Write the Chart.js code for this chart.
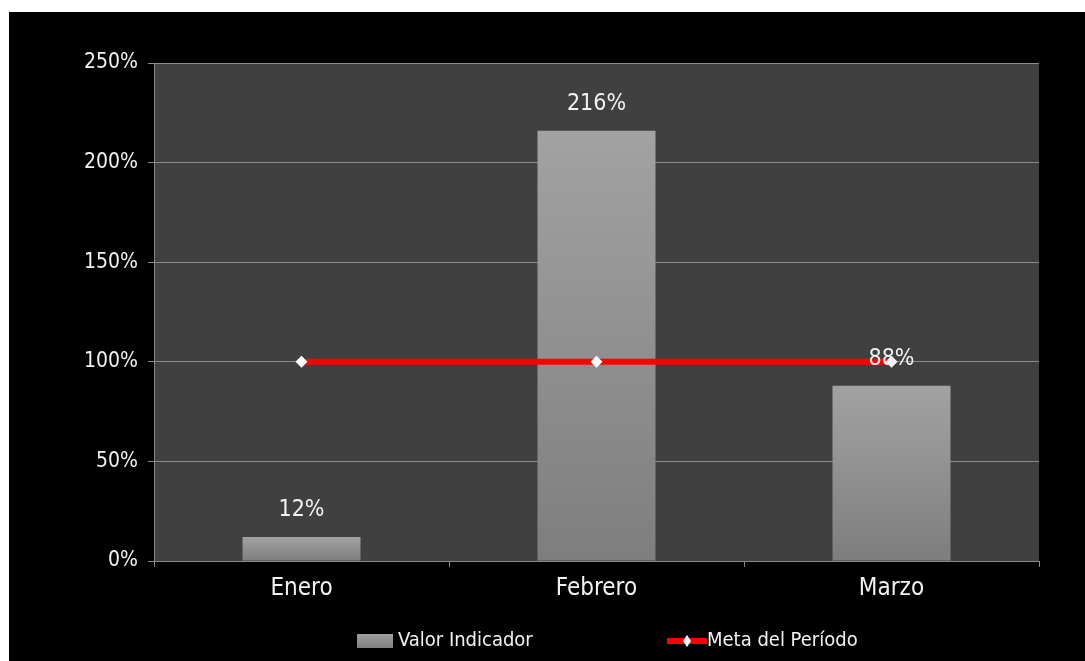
<!DOCTYPE html>
<html>
<head>
<meta charset="utf-8">
<script src="https://cdn.jsdelivr.net/npm/chart.js@4.4.1/dist/chart.umd.min.js"></script>
<style>
  html, body { margin: 0; padding: 0; background: #fff; }
  #wrap { position: absolute; left: 9px; top: 12px; width: 1076px; height: 649px; background: #000; }
</style>
</head>
<body>
<div id="wrap"><canvas id="chart"></canvas></div>
<script>
const MONTHS = ['Enero', 'Febrero', 'Marzo'];
const VALOR = [12, 216, 88];
const META = [100, 100, 100];
const Y_MAX = 250;
const Y_STEP = 50;

const FONT = "'Liberation Sans Narrow', 'DejaVu Sans Condensed', 'Liberation Sans', sans-serif";

// ─── plot background ───────────────────────────
const plotBg = {
  id: 'plotBg',
  beforeDraw(chart) {
    const { ctx, chartArea: a } = chart;
    ctx.save();
    ctx.fillStyle = '#404040';
    ctx.fillRect(a.left, a.top, a.right - a.left, a.bottom - a.top);
    ctx.restore();
  }
};

// ─── value labels above the bars ───────────────
const barLabels = {
  id: 'barLabels',
  afterDatasetsDraw(chart) {
    const { ctx } = chart;
    const meta = chart.getDatasetMeta(0);
    ctx.save();
    ctx.font = '23px ' + FONT;
    ctx.fillStyle = '#f2f2f2';
    ctx.textAlign = 'center';
    ctx.textBaseline = 'middle';
    meta.data.forEach((bar, i) => {
      ctx.fillText(VALOR[i] + '%', bar.x, bar.y - 27);
    });
    ctx.restore();
  }
};

// ─── legend at the bottom ───────────────
const bottomLegend = {
  id: 'bottomLegend',
  afterDraw(chart) {
    const { ctx } = chart;
    const y = 629;
    ctx.save();
    ctx.font = '20px ' + FONT;
    ctx.textBaseline = 'middle';
    ctx.textAlign = 'left';

    const g = ctx.createLinearGradient(0, y - 7, 0, y + 7);
    g.addColorStop(0, '#a0a0a0');
    g.addColorStop(1, '#808080');
    ctx.fillStyle = g;
    ctx.fillRect(348, y - 7, 36, 14);
    ctx.fillStyle = '#f2f2f2';
    ctx.fillText(chart.data.datasets[0].label, 389, y);

    ctx.fillStyle = '#ff0000';
    ctx.fillRect(658, y - 3, 40, 6);
    ctx.fillStyle = '#ffffff';
    ctx.beginPath();
    ctx.moveTo(678, y - 6);
    ctx.lineTo(682, y);
    ctx.lineTo(678, y + 6);
    ctx.lineTo(674, y);
    ctx.closePath();
    ctx.fill();
    ctx.fillStyle = '#f2f2f2';
    ctx.fillText(chart.data.datasets[1].label, 698, y);
    ctx.restore();
  }
};

// each bar gets its own light-to-dark gradient
function barGradient(ctx) {
  const chart = ctx.chart;
  const a = chart.chartArea;
  if (!a || ctx.type !== 'data') return '#909090';
  const top = chart.scales.y.getPixelForValue(ctx.raw);
  const g = chart.ctx.createLinearGradient(0, top, 0, a.bottom);
  g.addColorStop(0, '#a2a2a2');
  g.addColorStop(1, '#7e7e7e');
  return g;
}

new Chart(document.getElementById('chart'), {
  data: {
    labels: MONTHS,
    datasets: [
      {
        type: 'bar',
        label: 'Valor Indicador',
        data: VALOR,
        backgroundColor: barGradient,
        borderWidth: 0,
        categoryPercentage: 0.4,
        barPercentage: 1,
        order: 2
      },
      {
        type: 'line',
        label: 'Meta del Período',
        data: META,
        borderColor: '#ff0000',
        borderWidth: 6,
        pointStyle: 'rectRot',
        pointRadius: 6,
        pointBackgroundColor: '#ffffff',
        pointBorderColor: '#ffffff',
        pointBorderWidth: 0,
        tension: 0,
        order: 1
      }
    ]
  },
  options: {
    responsive: true,
    maintainAspectRatio: false,
    animation: false,
    layout: { padding: { top: 51, right: 46, left: 0, bottom: 0 } },
    plugins: { legend: { display: false }, tooltip: { enabled: false } },
    scales: {
      x: {
        offset: true,
        grid: { offset: true, drawOnChartArea: false, color: '#8a8a8a', tickLength: 6 },
        border: { color: '#8a8a8a', width: 1 },
        ticks: { color: '#f2f2f2', font: { family: FONT, size: 24 }, padding: 7 },
        afterFit(scale) { scale.height = 100; }
      },
      y: {
        min: 0,
        max: Y_MAX,
        ticks: {
          stepSize: Y_STEP,
          color: '#f2f2f2',
          font: { family: FONT, size: 21 },
          padding: 10,
          callback: v => v + '%'
        },
        grid: { color: '#8a8a8a', tickLength: 6, lineWidth: 1 },
        border: { color: '#8a8a8a', width: 1 },
        afterFit(scale) { scale.width = 145; }
      }
    }
  },
  plugins: [plotBg, barLabels, bottomLegend]
});
</script>
</body>
</html>
